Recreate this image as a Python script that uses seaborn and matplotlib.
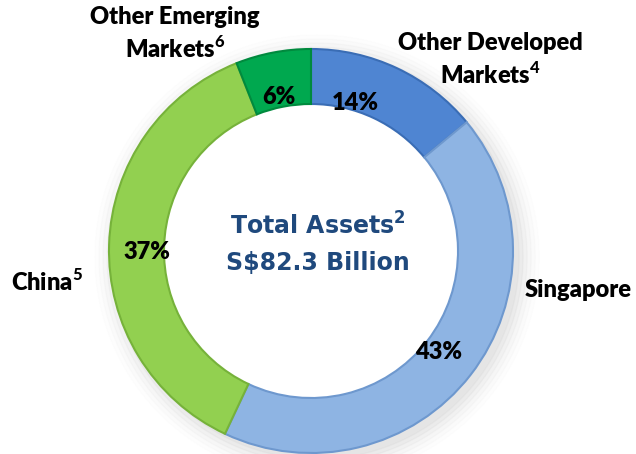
import matplotlib
matplotlib.use("Agg")
import matplotlib.pyplot as plt
import seaborn as sns
import numpy as np

regions = ["Other Developed\nMarkets$^{\\mathbf{4}}$", "Singapore", "China$^{\\mathbf{5}}$",
           "Other Emerging\nMarkets$^{\\mathbf{6}}$"]
shares = [14, 43, 37, 6]
colors = ["#4F85D2", "#8EB4E3", "#92D050", "#00A84F"]
edge_colors = ["#3A6DB5", "#6E98CE", "#76B23A", "#008A3E"]
center_lines = ["Total Assets$^{\\mathbf{2}}$", "S$82.3 Billion"]

sns.set_theme(style="white")
plt.rcParams['font.family'] = ['Lato', 'DejaVu Sans']
plt.rcParams['mathtext.fontset'] = 'custom'
plt.rcParams['mathtext.bf'] = 'Lato:black'
plt.rcParams['mathtext.rm'] = 'Lato'

W, H = 636, 454
fig = plt.figure(figsize=(W / 100, H / 100), dpi=100)
ax = fig.add_axes([0, 0, 1, 1])
R = 202.0
cx, cy = 311.0, 203.0

width = 1 - 147 / 202
wedges, texts, autotexts = ax.pie(
    shares, colors=colors, startangle=90, counterclock=False,
    radius=1.0, autopct=lambda p: f"{p:.0f}%", pctdistance=0.84,
    wedgeprops=dict(width=width, linewidth=1.5),
    textprops=dict(fontsize=17, fontweight="heavy", color="black"),
)
for w, ec in zip(wedges, edge_colors):
    w.set_edgecolor(ec)
    w.set_zorder(2)
for t in autotexts:
    t.set_zorder(3)

ax.set_xlim(-cx / R, (W - cx) / R)
ax.set_ylim(-cy / R, (H - cy) / R)
ax.set_aspect("equal")
ax.axis("off")

# soft shadow behind the ring
for i, a in enumerate(np.linspace(0.05, 0.01, 6)):
    sh = plt.Circle((0.03, -0.03), 1.0 + 0.02 * i, color="#808080", alpha=a, zorder=0)
    ax.add_patch(sh)

# nudge labels to match the reference placement
x, y = autotexts[0].get_position()
autotexts[0].set_position((x - 0.14, y - 0.025))
x, y = autotexts[1].get_position()
autotexts[1].set_position((x - 0.03, y + 0.015))
x, y = autotexts[2].get_position()
autotexts[2].set_position((x + 0.025, y - 0.03))
x, y = autotexts[3].get_position()
autotexts[3].set_position((x, y - 0.065))

# inner white face
ax.add_patch(plt.Circle((0, 0), 1 - width, color="white", zorder=1))


def px(xp, yp):
    return ((xp - cx) / R, ((H - yp) - cy) / R)


label_pos = [(490, 60), (578, 290), (47, 282), (175, 34)]
for lab, (xp, yp) in zip(regions, label_pos):
    ax.text(*px(xp, yp), lab, ha="center", va="center", fontsize=17,
            fontweight="heavy", color="black", linespacing=1.3, zorder=4)

t1 = ax.text(*px(318, 226), center_lines[0], ha="center", va="center", fontsize=17,
             fontweight="bold", color="#1F497D", family="DejaVu Sans", zorder=4)
t1.set_math_fontfamily("dejavusans")
ax.text(*px(318, 263), center_lines[1].replace("$", "\\$"), ha="center", va="center", fontsize=17,
        fontweight="bold", color="#1F497D", family="DejaVu Sans", zorder=4)

fig.savefig("out.png", dpi=100)
